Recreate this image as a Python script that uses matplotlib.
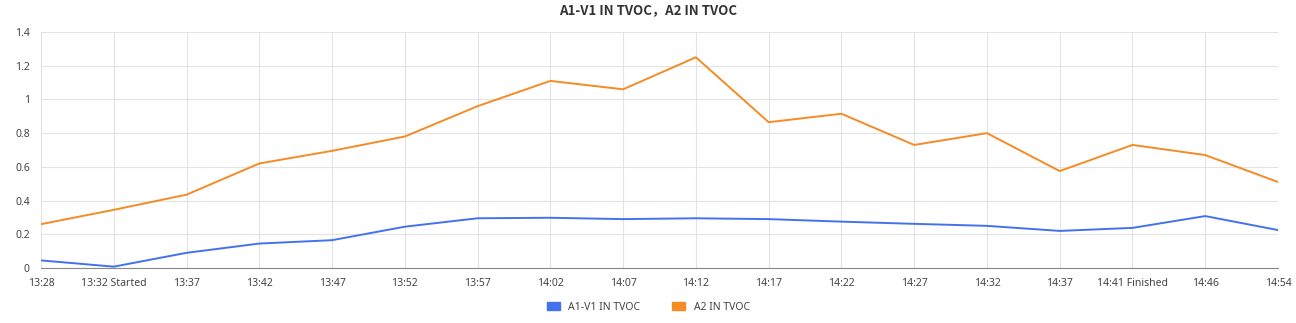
import matplotlib
matplotlib.use('Agg')
import matplotlib.pyplot as plt
from matplotlib.patches import Patch

times = ['13:28', '13:32 Started', '13:37', '13:42', '13:47', '13:52', '13:57', '14:02', '14:07',
         '14:12', '14:17', '14:22', '14:27', '14:32', '14:37', '14:41 Finished', '14:46', '14:54']
a1_v1 = [0.045, 0.008, 0.09, 0.145, 0.165, 0.245, 0.295, 0.298, 0.29,
         0.295, 0.29, 0.275, 0.262, 0.25, 0.22, 0.238, 0.308, 0.225]
a2 = [0.26, 0.345, 0.435, 0.62, 0.695, 0.78, 0.96, 1.11, 1.06,
      1.25, 0.865, 0.915, 0.73, 0.80, 0.575, 0.73, 0.67, 0.51]
yticks = [0, 0.2, 0.4, 0.6, 0.8, 1, 1.2, 1.4]
ylabels = ['0', '0.2', '0.4', '0.6', '0.8', '1', '1.2', '1.4']

blue = '#4472ee'
orange = '#f58b25'

plt.rcParams['font.family'] = ['Noto Sans', 'DejaVu Sans']
fig = plt.figure(figsize=(12.96, 3.23), dpi=100)
ax = fig.add_axes([41 / 1296, 1 - 268 / 323, (1278 - 41) / 1296, (268 - 32) / 323])

x = list(range(len(times)))
ax.plot(x, a1_v1, color=blue, lw=1.4)
ax.plot(x, a2, color=orange, lw=1.4)

ax.set_xlim(0, len(times) - 1)
ax.set_ylim(0, 1.4)
ax.set_xticks(x)
ax.set_xticklabels(times)
ax.set_yticks(yticks)
ax.set_yticklabels(ylabels)
ax.grid(True, color='#e3e3e3', lw=0.8)
ax.set_axisbelow(True)
for s in ['top', 'right', 'left']:
    ax.spines[s].set_visible(False)
ax.spines['bottom'].set_color('#888888')
ax.tick_params(axis='both', length=0, labelsize=7.5, colors='#444444')
ax.tick_params(axis='x', pad=7)
ax.tick_params(axis='y', pad=8)

fig.text(0.5, 1 - 10 / 323, 'A1-V1 IN TVOC，A2 IN TVOC', ha='center', va='center',
         fontsize=9.5, fontweight='bold', color='#333333',
         family=['Noto Sans CJK SC', 'DejaVu Sans'])

handles = [Patch(color=blue, label='A1-V1 IN TVOC'), Patch(color=orange, label='A2 IN TVOC')]
fig.legend(handles=handles, loc='center', bbox_to_anchor=(0.5, 1 - 307 / 323), ncol=2,
           frameon=False, fontsize=7.5, handlelength=1.3, handleheight=0.7,
           columnspacing=3, labelcolor='#444444')

fig.savefig('out.png', dpi=100)
